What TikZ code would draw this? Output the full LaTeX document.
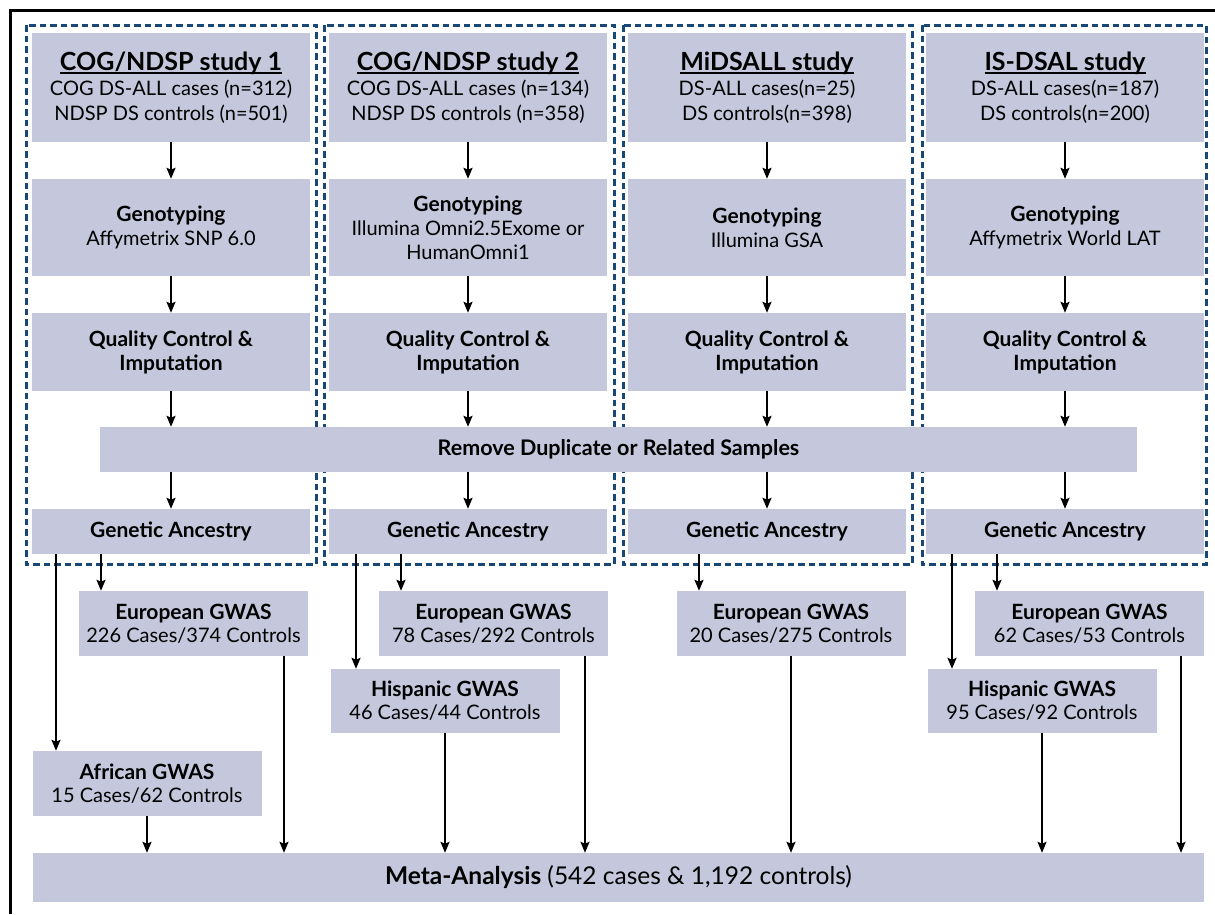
\documentclass[tikz,border=0pt]{standalone}
\usepackage{fontspec}
\setmainfont{Lato}
\usetikzlibrary{arrows.meta}
\definecolor{boxc}{RGB}{197,200,220}
\definecolor{grpc}{RGB}{26,72,118}
\newsavebox\ulbox
\newcommand\myul[1]{\sbox\ulbox{#1}\rlap{\rule[-3.5pt]{\wd\ulbox}{1.6pt}}\usebox\ulbox}
\newcommand\ttl[1]{{\fontsize{25}{25}\selectfont\bfseries\myul{#1}}}
\newcommand\bt[1]{{\fontsize{21}{24}\selectfont\bfseries #1}}
\begin{document}
\begin{tikzpicture}[x=1pt,y=-1pt,
  box/.style={fill=boxc, draw=none, inner sep=0pt, align=center, font=\fontsize{20}{24}\selectfont},
  colbox/.style={box, minimum width=278pt},
  studybox/.style={colbox, minimum height=109pt, font=\fontsize{20}{25}\selectfont},
  genobox/.style={colbox, minimum height=97pt},
  qcbox/.style={colbox, minimum height=78pt, font=\fontsize{21}{24}\selectfont\bfseries},
  ancbox/.style={colbox, minimum height=45pt, font=\fontsize{21}{24}\selectfont\bfseries},
  gwas/.style={box, minimum width=229pt, minimum height=65pt, font=\fontsize{20}{23}\selectfont},
  arr/.style={line width=2pt, -{Stealth[length=11pt,width=9pt,inset=2pt]}},
  grp/.style={draw=grpc, line width=3pt, dash pattern=on 6.5pt off 4pt}]
\useasboundingbox (0,0) rectangle (1215,914);
% outer frame
\draw[line width=3pt] (10.5,914) -- (10.5,10.5) -- (1215,10.5);
% study groups
\draw[grp] (26,25) rectangle (316,564);
\draw[grp] (324,25) rectangle (614,564);
\draw[grp] (623,25) rectangle (912,564);
\draw[grp] (922,25) rectangle (1206,564);
% study boxes
\node[studybox] (s1) at (171,87.5) {\ttl{COG/NDSP study 1}\\COG DS-ALL cases (n=312)\\NDSP DS controls (n=501)};
\node[studybox] (s2) at (468,87.5) {\ttl{COG/NDSP study 2}\\COG DS-ALL cases (n=134)\\NDSP DS controls (n=358)};
\node[studybox] (s3) at (767,87.5) {\ttl{MiDSALL study}\\DS-ALL cases(n=25)\\DS controls(n=398)};
\node[studybox] (s4) at (1065,87.5) {\ttl{IS-DSAL study}\\DS-ALL cases(n=187)\\DS controls(n=200)};
% genotyping
\node[genobox] (g1) at (171,227.5) {\bt{Genotyping}\\Affymetrix SNP 6.0};
\node[genobox] (g2) at (468,227.5) {\bt{Genotyping}\\Illumina Omni2.5Exome or\\HumanOmni1};
\node[genobox] (g3) at (767,227.5) {\bt{Genotyping}\\Illumina GSA};
\node[genobox] (g4) at (1065,227.5) {\bt{Genotyping}\\Affymetrix World LAT};
% QC
\node[qcbox] (q1) at (171,352) {Quality Control \&\\Imputation};
\node[qcbox] (q2) at (468,352) {Quality Control \&\\Imputation};
\node[qcbox] (q3) at (767,352) {Quality Control \&\\Imputation};
\node[qcbox] (q4) at (1065,352) {Quality Control \&\\Imputation};
% remove duplicates
\node[box, minimum width=1037pt, minimum height=45pt, font=\fontsize{21.5}{24}\selectfont\bfseries] (rm) at (618.5,449.5) {Remove Duplicate or Related Samples};
% ancestry
\node[ancbox] (a1) at (171,531.5) {Genetic Ancestry};
\node[ancbox] (a2) at (468,531.5) {Genetic Ancestry};
\node[ancbox] (a3) at (767,531.5) {Genetic Ancestry};
\node[ancbox] (a4) at (1065,531.5) {Genetic Ancestry};
% GWAS
\node[gwas] (e1) at (193.5,623.5) {\bt{European GWAS}\\226 Cases/374 Controls};
\node[gwas] (e2) at (493.5,623.5) {\bt{European GWAS}\\78 Cases/292 Controls};
\node[gwas] (e3) at (791,623.5) {\bt{European GWAS}\\20 Cases/275 Controls};
\node[gwas] (e4) at (1089.5,623.5) {\bt{European GWAS}\\62 Cases/53 Controls};
\node[gwas, minimum height=64pt] (h2) at (445,701) {\bt{Hispanic GWAS}\\46 Cases/44 Controls};
\node[gwas, minimum height=64pt] (h4) at (1042,701) {\bt{Hispanic GWAS}\\95 Cases/92 Controls};
\node[gwas] (af) at (147,783.5) {\bt{African GWAS}\\15 Cases/62 Controls};
% meta
\node[box, minimum width=1171pt, minimum height=49pt, font=\fontsize{24.5}{28}\selectfont] (m) at (618.5,877.5) {\textbf{Meta-Analysis} (542 cases \& 1,192 controls)};
% column arrows
\foreach \c in {1,2,3,4}{
  \draw[arr] (s\c) -- (g\c);
  \draw[arr] (g\c) -- (q\c);
  \draw[arr] (q\c.south) -- (q\c.south |- rm.north);
  \draw[arr] (q\c.south |- rm.south) -- (a\c.north);
}
% ancestry to GWAS
\draw[arr] ([xshift=-115pt]a1.south) -- ([xshift=-115pt]a1.south |- af.north);
\draw[arr] ([xshift=-70pt]a1.south) -- ([xshift=-70pt]a1.south |- e1.north);
\draw[arr] ([xshift=-112pt]a2.south) -- ([xshift=-112pt]a2.south |- h2.north);
\draw[arr] ([xshift=-67pt]a2.south) -- ([xshift=-67pt]a2.south |- e2.north);
\draw[arr] ([xshift=-68pt]a3.south) -- ([xshift=-68pt]a3.south |- e3.north);
\draw[arr] ([xshift=-113pt]a4.south) -- ([xshift=-113pt]a4.south |- h4.north);
\draw[arr] ([xshift=-68pt]a4.south) -- ([xshift=-68pt]a4.south |- e4.north);
% GWAS to meta
\draw[arr] (af.south) -- (af.south |- m.north);
\draw[arr] ([xshift=90.5pt]e1.south) -- ([xshift=90.5pt]e1.south |- m.north);
\draw[arr] (h2.south) -- (h2.south |- m.north);
\draw[arr] ([xshift=91.5pt]e2.south) -- ([xshift=91.5pt]e2.south |- m.north);
\draw[arr] (e3.south) -- (e3.south |- m.north);
\draw[arr] (h4.south) -- (h4.south |- m.north);
\draw[arr] ([xshift=91.5pt]e4.south) -- ([xshift=91.5pt]e4.south |- m.north);
\end{tikzpicture}
\end{document}
